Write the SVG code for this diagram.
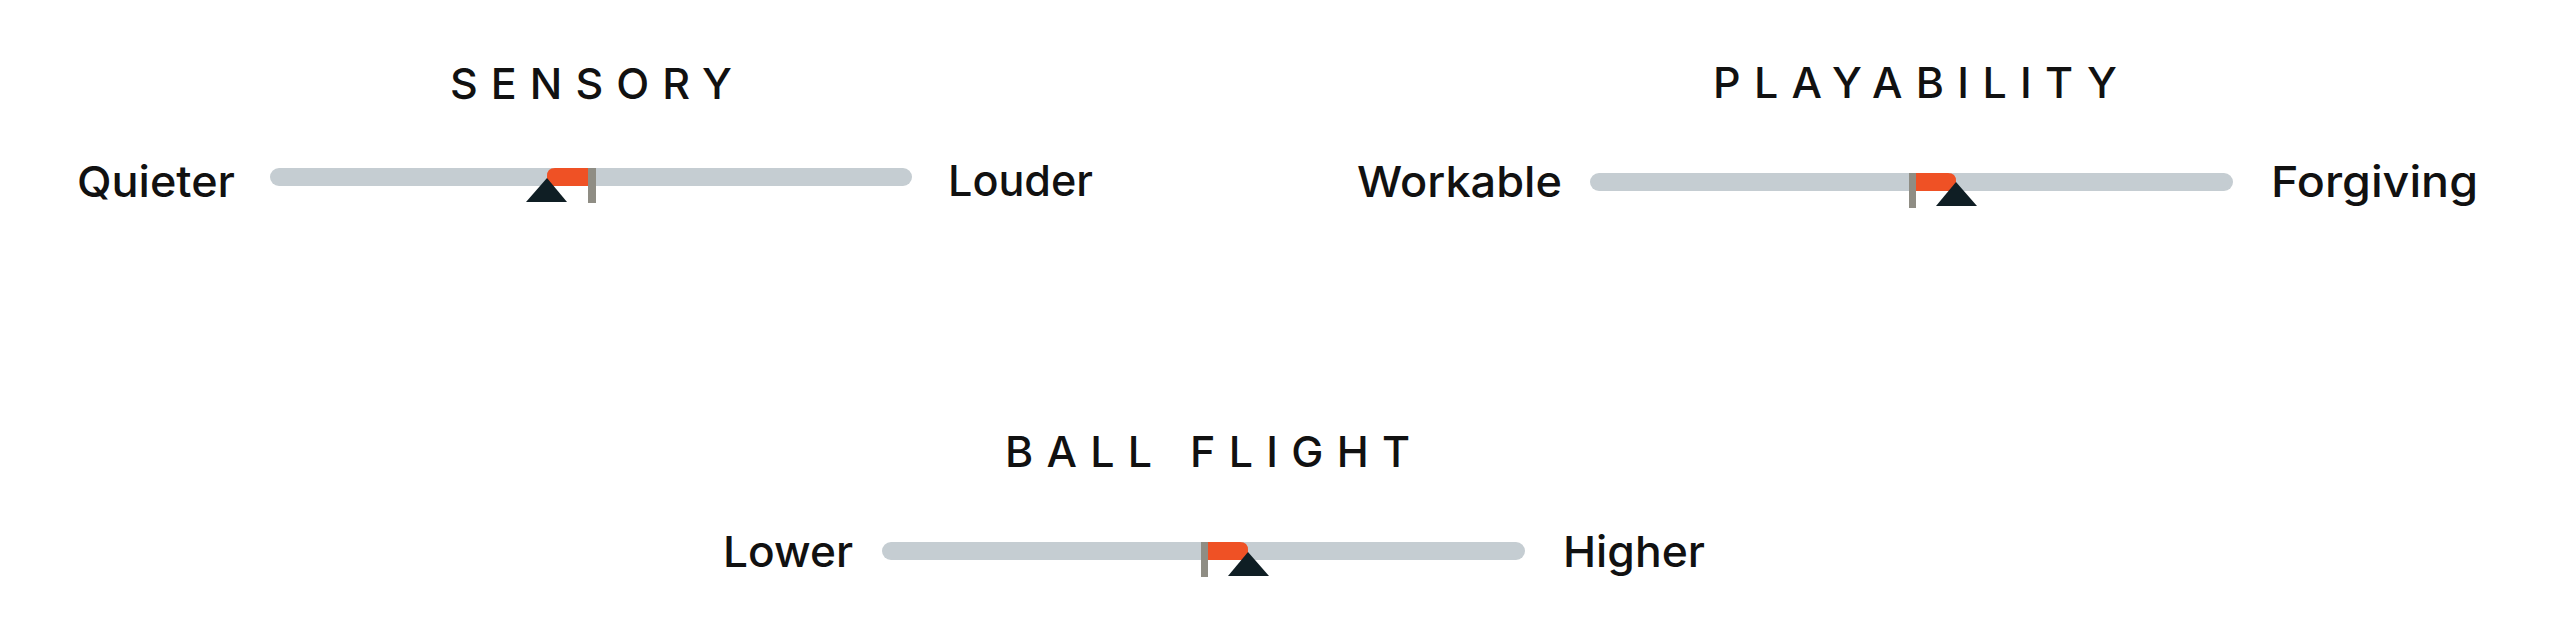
<svg xmlns="http://www.w3.org/2000/svg" width="2560" height="640" viewBox="0 0 2560 640">
<style>
.title{font-family:Inter,"Liberation Sans",sans-serif;font-size:43px;font-weight:500;fill:#111;}
.lbl{font-family:Inter,"Liberation Sans",sans-serif;font-size:43px;font-weight:500;fill:#111;}
.track{fill:#c5cdd2;}
.fill{fill:#ef5125;}
.tick{fill:#8f8d84;}
.tri{fill:#0f1e24;}
</style>
<rect width="2560" height="640" fill="#fff"/>
<g id="sensory">
  <text class="title" x="450" y="99" textLength="282" lengthAdjust="spacing">SENSORY</text>
  <text class="lbl" x="77" y="197" textLength="158" lengthAdjust="spacingAndGlyphs">Quieter</text>
  <text class="lbl" x="948" y="196" textLength="145" lengthAdjust="spacingAndGlyphs">Louder</text>
  <rect class="track" x="270" y="168" width="642" height="18" rx="9"/>
  <path class="fill" d="M547 186 V176 Q547 168 555 168 H588 V186 Z"/>
  <rect class="tick" x="588" y="168" width="8" height="35"/>
  <polygon class="tri" points="547,178 567,202 526,202"/>
</g>
<g id="playability">
  <text class="title" x="1713" y="98" textLength="404" lengthAdjust="spacing">PLAYABILITY</text>
  <text class="lbl" x="1357" y="197" textLength="205" lengthAdjust="spacingAndGlyphs">Workable</text>
  <text class="lbl" x="2271" y="197" textLength="207" lengthAdjust="spacingAndGlyphs">Forgiving</text>
  <rect class="track" x="1590" y="173" width="643" height="18" rx="9"/>
  <path class="fill" d="M1916 173 H1948 Q1956 173 1956 181 V191 H1916 Z"/>
  <rect class="tick" x="1909" y="173" width="7" height="35"/>
  <polygon class="tri" points="1956,182 1977,206 1936,206"/>
</g>
<g id="ball-flight">
  <text class="title" x="1005" y="467" textLength="405" lengthAdjust="spacing">BALL FLIGHT</text>
  <text class="lbl" x="723" y="567" textLength="130" lengthAdjust="spacingAndGlyphs">Lower</text>
  <text class="lbl" x="1563" y="567" textLength="142" lengthAdjust="spacingAndGlyphs">Higher</text>
  <rect class="track" x="882" y="542" width="643" height="18" rx="9"/>
  <path class="fill" d="M1207 542 H1240 Q1248 542 1248 550 V560 H1207 Z"/>
  <rect class="tick" x="1201" y="542" width="7" height="35"/>
  <polygon class="tri" points="1248,552 1269,576 1228,576"/>
</g>
</svg>
